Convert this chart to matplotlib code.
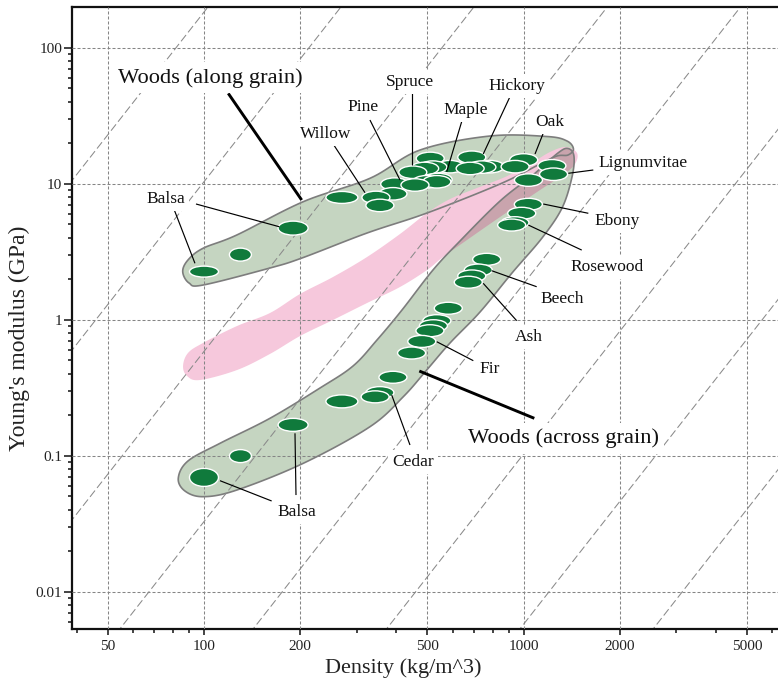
import numpy as np
import matplotlib
matplotlib.use("Agg")
import matplotlib.pyplot as plt
from matplotlib.collections import EllipseCollection
from matplotlib.patches import PathPatch
from matplotlib.path import Path
from matplotlib.ticker import LogLocator, NullFormatter

plt.rcParams['font.family'] = ['Liberation Serif', 'DejaVu Serif']

# ---------------------------------------------------------------- data
# Woods loaded along the grain: density (kg/m^3), Young's modulus (GPa)
along_density = [100, 130, 190, 270, 345, 355, 395, 390, 450, 457, 497, 535, 510,
                 490, 520, 588, 540, 688, 680, 740, 785, 940, 1000, 1035, 1225, 1240]
along_modulus = [2.25, 3.0, 4.7, 7.9, 7.9, 6.9, 9.9, 8.4, 12.1, 9.75, 10.3, 10.3, 15.3,
                 12.9, 13.2, 13.3, 10.7, 15.6, 12.9, 13.2, 13.3, 13.3, 14.9, 10.6, 13.5, 11.7]

# Woods loaded across the grain
across_density = [100, 130, 190, 270, 343, 355, 390, 446, 480, 509, 522, 535, 581,
                  671, 688, 721, 766, 917, 939, 986, 1034]
across_modulus = [0.069, 0.099, 0.168, 0.25, 0.27, 0.29, 0.376, 0.567, 0.69, 0.827,
                  0.90, 0.98, 1.21, 1.88, 2.09, 2.31, 2.77, 4.95, 5.15, 6.04, 7.03]

# Property envelopes (outline vertices)
along_env_density = [85.8, 89.1, 99.3, 126.6, 204.4, 330.5, 474, 784.6, 1183, 1366, 1431,
                     1376, 1271, 1125, 843.4, 498.5, 323.6, 202.5, 160.8, 99.5, 89.8]
along_env_modulus = [2.247, 2.738, 3.339, 4.18, 7.35, 10.92, 17.63, 22.35, 22.16, 20.54, 17.93,
                     16.2, 15.93, 13.91, 9.92, 6.07, 4.325, 2.833, 2.391, 1.794, 1.855]

across_env_density = [83.1, 89.1, 112.2, 160.8, 230.6, 292.5, 347.6, 416.3, 520.3, 632.1,
                      843.4, 1069, 1280, 1376, 1436, 1416, 1318, 1141, 919.3, 730, 588.2,
                      497.4, 420.2, 330.5, 204.4, 126.6, 99.5, 87.2]
across_env_modulus = [0.068, 0.0911, 0.1229, 0.1877, 0.3135, 0.455, 0.7067, 1.175, 2.312, 3.778,
                      7.435, 11.55, 16.76, 18.09, 15.93, 11.16, 6.604, 3.974, 2.198, 1.135, 0.672,
                      0.4253, 0.2706, 0.1628, 0.0876, 0.0557, 0.0498, 0.0548]

band_env_density = [86.0, 89.1, 99.3, 126.9, 160.8, 199.7, 253.2, 323.6, 410.3, 498.5, 588.2,
                    714.4, 874.2, 1046.4, 1209, 1357, 1468, 1447, 1327, 1125, 843.4, 664.6,
                    559.3, 498.5, 410.3, 323.6, 253.2, 199.7, 160.8, 126.9, 97.2, 88.5]
band_env_modulus = [0.455, 0.567, 0.672, 0.896, 1.116, 1.54, 2.053, 2.881, 4.253, 6.07, 7.69,
                    9.27, 11.16, 13.91, 17.05, 18.55, 16.76, 13.91, 11.55, 8.96, 5.67, 3.842,
                    2.881, 2.312, 1.734, 1.322, 0.992, 0.756, 0.558, 0.4253, 0.359, 0.3843]

# Guide lines E / rho^3 = const: density at which each line reaches E = 0.01 GPa
guide_density_at_001 = [3.8, 9.9, 25.8, 67.4, 176, 460, 1202, 3139, 8200]

x_ticks = [50, 100, 200, 500, 1000, 2000, 5000]
x_tick_labels = ['50', '100', '200', '500', '1000', '2000', '5000']
y_ticks = [0.01, 0.1, 1, 10, 100]
y_tick_labels = ['0.01', '0.1', '1', '10', '100']

# ---------------------------------------------------------------- styles
GREEN_FILL = '#c5d5c1'
OUTLINE = '#7d7d7d'
PINK = '#f6c8dc'
DUSTY = '#c9a4ad'
DOT = '#107a3c'

along_w = [29, 22, 30, 32] + [28] * (len(along_density) - 4)
along_h = [11, 13, 14, 12] + [12.5] * (len(along_density) - 4)
across_w = [29, 22, 30, 32] + [28] * (len(across_density) - 4)
across_h = [18, 13, 13, 13] + [12] * (len(across_density) - 4)


def smooth_closed(xs, ys, n=14):
    """Closed Catmull-Rom curve through the vertices, built in log space."""
    P = np.column_stack([np.log10(xs), np.log10(ys)])
    m = len(P)
    t = np.linspace(0, 1, n, endpoint=False)[:, None]
    segs = []
    for i in range(m):
        p0, p1, p2, p3 = P[i - 1], P[i], P[(i + 1) % m], P[(i + 2) % m]
        segs.append(0.5 * (2 * p1 + (-p0 + p2) * t
                           + (2 * p0 - 5 * p1 + 4 * p2 - p3) * t ** 2
                           + (-p0 + 3 * p1 - 3 * p2 + p3) * t ** 3))
    pts = np.vstack(segs + [segs[0][:1]])
    return Path(10 ** pts, closed=True)


fig = plt.figure(figsize=(7.78, 6.86), dpi=100)
ax = fig.add_axes([0.09254, 0.08309, 0.90746, 0.90598])
ax.set_xscale('log')
ax.set_yscale('log')
ax.set_xlim(38.65, 6244)
ax.set_ylim(0.0053, 196.9)

# envelopes
along_path = smooth_closed(along_env_density, along_env_modulus)
across_path = smooth_closed(across_env_density, across_env_modulus)
band_path = smooth_closed(band_env_density, band_env_modulus)

ax.add_patch(PathPatch(along_path, facecolor=GREEN_FILL, edgecolor='none', zorder=1.0))
ax.add_patch(PathPatch(band_path, facecolor=PINK, edgecolor='none', zorder=1.1))
across_fill = PathPatch(across_path, facecolor=GREEN_FILL, edgecolor='none', zorder=1.2)
ax.add_patch(across_fill)
overlap = PathPatch(band_path, facecolor=DUSTY, edgecolor='none', zorder=1.3)
ax.add_patch(overlap)
overlap.set_clip_path(across_fill)
for p in (along_path, across_path):
    ax.add_patch(PathPatch(p, facecolor='none', edgecolor=OUTLINE, linewidth=1.2, zorder=1.5))

# guide lines
for rho0 in guide_density_at_001:
    rho = np.array([rho0 / 100.0, rho0 * 100.0])
    ax.plot(rho, 0.01 * (rho / rho0) ** 3, color='#8a8a8a', linewidth=0.75,
            linestyle=(0, (7.7, 3.2)), zorder=2.4)

# grid, ticks, spines
ax.set_axisbelow(False)
ax.grid(True, which='major', color='#858585', linewidth=0.75, linestyle=(0, (2.9, 1.9)))
ax.grid(False, which='minor')
ax.set_xticks(x_ticks, labels=x_tick_labels)
ax.set_yticks(y_ticks, labels=y_tick_labels)
ax.xaxis.set_minor_locator(LogLocator(base=10, subs=np.arange(2, 10), numticks=50))
ax.yaxis.set_minor_locator(LogLocator(base=10, subs=np.arange(2, 10), numticks=50))
ax.xaxis.set_minor_formatter(NullFormatter())
ax.yaxis.set_minor_formatter(NullFormatter())
ax.tick_params(axis='both', which='both', direction='out', top=False, right=False,
               width=1.1, colors='#111111', labelsize=11, labelcolor='#222222')
ax.tick_params(axis='x', which='major', length=4.5, pad=3.5)
ax.tick_params(axis='y', which='major', length=5.5, pad=1.5)
ax.tick_params(axis='both', which='minor', length=3.0)
ax.spines['right'].set_visible(False)
for s in ('left', 'bottom', 'top'):
    ax.spines[s].set_linewidth(1.6)
    ax.spines[s].set_color('#111111')

ax.set_xlabel('Density (kg/m^3)', fontsize=16, color='#222222')
ax.set_ylabel("Young's modulus (GPa)", fontsize=17, color='#222222')
ax.xaxis.set_label_coords(0.4688, -0.047)
ax.yaxis.set_label_coords(-0.0595, 0.4674)


def draw_dots(dens, mod, w, h):
    dens = np.asarray(dens, float)
    mod = np.asarray(mod, float)
    order = np.argsort(-mod, kind='stable')
    ec = EllipseCollection(np.asarray(w, float)[order], np.asarray(h, float)[order],
                           np.zeros(len(order)), units='dots',
                           offsets=np.column_stack([dens[order], mod[order]]),
                           offset_transform=ax.transData,
                           facecolors=DOT, edgecolors='white', linewidths=1.0, zorder=3)
    ax.add_collection(ec, autolim=False)


draw_dots(along_density, along_modulus, along_w, along_h)
draw_dots(across_density, across_modulus, across_w, across_h)

# labels and leader lines
small_labels = [
    ('Balsa', 76.0, 7.69), ('Willow', 240.3, 23.0), ('Pine', 315.0, 36.7),
    ('Spruce', 440.9, 56.0), ('Maple', 659.8, 34.7), ('Hickory', 950.8, 52.1),
    ('Oak', 1209, 28.5), ('Lignumvitae', 2366, 14.22), ('Ebony', 1954, 5.33),
    ('Rosewood', 1818, 2.445), ('Beech', 1324, 1.408), ('Ash', 1039, 0.747),
    ('Fir', 780.6, 0.4305), ('Cedar', 451.5, 0.090), ('Balsa', 195.0, 0.0386),
]
big_labels = [
    ('Woods (along grain)', 104.4, 59.7),
    ('Woods (across grain)', 1330, 0.1338),
]
thin_leaders = [
    ((94.4, 7.07), (172.0, 4.81)), ((80.6, 6.46), (93.7, 2.59)),
    ((255.6, 18.96), (318.9, 8.56)), ((330.5, 29.3), (410.3, 10.61)),
    ((446.3, 46.0), (446.3, 13.68)), ((639.8, 28.5), (574.4, 12.2)),
    ((906, 43.5), (747.3, 16.48)), ((1151, 23.4), (1085, 16.48)),
    ((1651, 12.57), (1379, 11.89)), ((1593, 6.04), (1151, 7.07)),
    ((1519, 3.24), (1034, 4.95)), ((1098, 1.742), (794, 2.285)),
    ((951, 0.98), (747, 1.846)), ((695.7, 0.498), (534.5, 0.6868)),
    ((440.9, 0.1195), (386.5, 0.2786)), ((162.8, 0.0463), (112.2, 0.0653)),
    ((194.0, 0.0512), (192.6, 0.1456)),
]
thick_leaders = [
    ((119.1, 46.0), (202.1, 7.56)),
    ((1079.5, 0.1877), (471.5, 0.418)),
]

for (x0, y0), (x1, y1) in thin_leaders:
    ax.plot([x0, x1], [y0, y1], color='black', linewidth=0.85, zorder=3.5,
            solid_capstyle='butt')
for (x0, y0), (x1, y1) in thick_leaders:
    ax.plot([x0, x1], [y0, y1], color='black', linewidth=2.1, zorder=3.5,
            solid_capstyle='butt')

for text, x, y in small_labels:
    ax.text(x, y, text, fontsize=12.5, color='#111111', ha='center', va='center',
            zorder=4, bbox=dict(facecolor='white', edgecolor='none', pad=3))
for text, x, y in big_labels:
    ax.text(x, y, text, fontsize=16.2, color='#111111', ha='center', va='center',
            zorder=4, bbox=dict(facecolor='white', edgecolor='none', pad=4))

fig.savefig('out.png', dpi=100)
